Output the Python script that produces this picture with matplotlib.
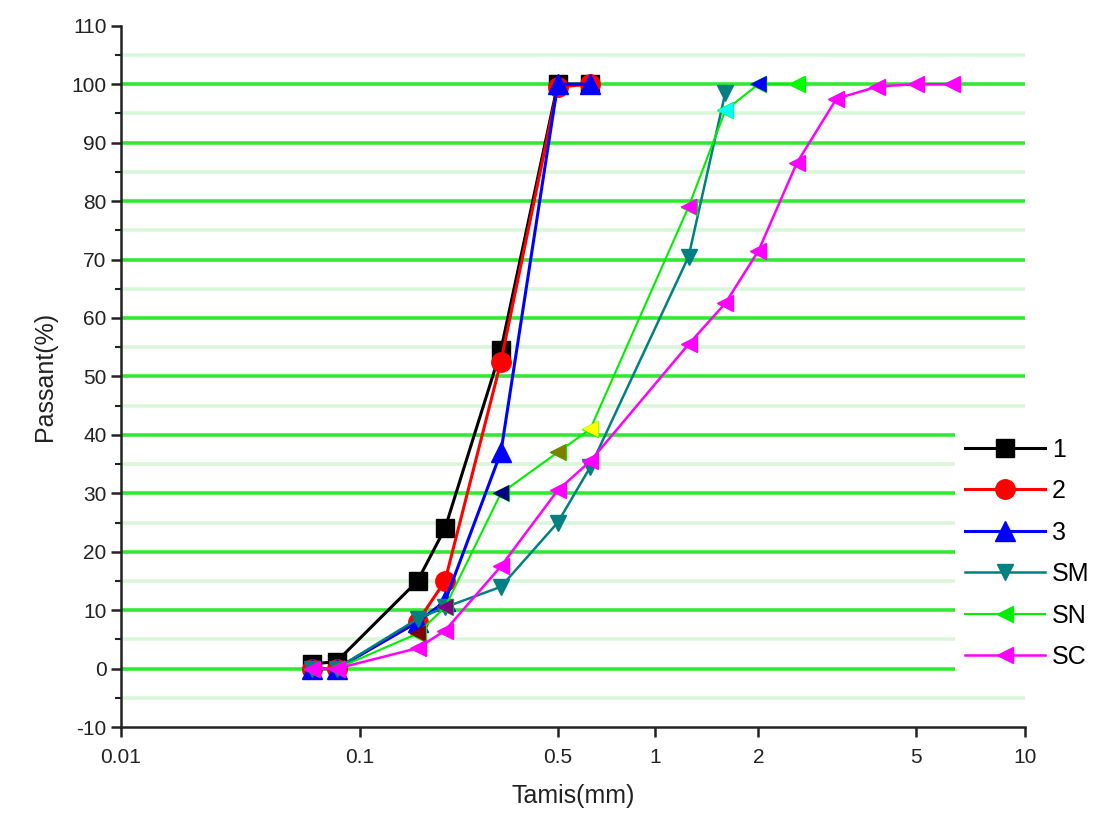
import numpy as np
import matplotlib
matplotlib.use("Agg")
import matplotlib.pyplot as plt
from matplotlib.ticker import MultipleLocator, FixedLocator, FixedFormatter

plt.rcParams['font.family'] = ['Liberation Sans', 'DejaVu Sans']
plt.rcParams['axes.unicode_minus'] = False

# sieve sizes (mm) and passing percentages
sizes_123 = [0.063, 0.08, 0.16, 0.2, 0.315, 0.5, 0.63]
pass_1 = [0.8, 1.2, 15, 24, 54.5, 100, 100]
pass_2 = [0, 0, 8, 15, 52.5, 99.5, 100]
pass_3 = [0, 0, 8, 11.5, 37, 100, 100]

sizes_sm = [0.063, 0.08, 0.16, 0.2, 0.315, 0.5, 0.63, 1.25, 1.6]
pass_sm = [0, 0, 8.5, 10.5, 14, 25, 34.5, 70.5, 98.5]

sizes_sn = [0.063, 0.08, 0.16, 0.2, 0.315, 0.5, 0.63, 1.25, 1.6, 2, 2.5]
pass_sn = [0, 0, 6, 10.5, 30, 37, 41, 79, 95.5, 100, 100]
sn_marker_colors = ['#008080', '#808000', '#800000', '#800080', '#000080',
                    '#808000', '#ffff00', '#ff00ff', '#00ffff', '#0000ff', '#00ff00']

sizes_sc = [0.063, 0.08, 0.16, 0.2, 0.315, 0.5, 0.63, 1.25, 1.6, 2, 2.5, 3.15, 4, 5, 6.3]
pass_sc = [0, 0, 3.5, 6.5, 17.5, 30.5, 35.5, 55.5, 62.5, 71.5, 86.5, 97.5, 99.6, 100, 100]

x_ticks = [0.01, 0.1, 0.5, 1, 2, 5, 10]
x_ticklabels = ['0.01', '0.1', '0.5', '1', '2', '5', '10']

# the original x axis is log-like but its decades are not evenly spaced;
# spacing (fraction of axis width at each tick)
scale_log = np.log10(x_ticks)
scale_frac = np.array([0, 0.264, 0.483, 0.591, 0.705, 0.879, 1.0])


def fwd(x):
    x = np.clip(np.asarray(x, dtype=float), 1e-6, None)
    return np.interp(np.log10(x), scale_log, scale_frac)


def inv(y):
    return 10 ** np.interp(y, scale_frac, scale_log)


fig = plt.figure(figsize=(11, 8.3), dpi=100)
ax = fig.add_axes([0.110, 0.124, 0.822, 0.845])
ax.set_xscale('function', functions=(fwd, inv))

lw_main = 2.2
ax.plot(sizes_123, pass_1, color='black', marker='s', ms=13, lw=lw_main, label='1')
ax.plot(sizes_123, pass_2, color='red', marker='o', ms=14, lw=lw_main, label='2')
ax.plot(sizes_123, pass_3, color='blue', marker='^', ms=14, lw=lw_main, label='3')
ax.plot(sizes_sm, pass_sm, color='#008080', marker='v', ms=12, lw=1.8, label='SM')
ax.plot(sizes_sn, pass_sn, color='#00ee00', marker='<', ms=12, lw=1.5, label='SN')
ax.scatter(sizes_sn, pass_sn, c=sn_marker_colors, marker='<', s=144, zorder=2.05,
           linewidths=0)
ax.plot(sizes_sc, pass_sc, color='#ff00ff', marker='<', ms=12, lw=1.8, label='SC',
        zorder=2.1)

ax.set_xlim(0.01, 10)
ax.set_ylim(-10, 110)

ax.xaxis.set_major_locator(FixedLocator(x_ticks))
ax.xaxis.set_major_formatter(FixedFormatter(x_ticklabels))
ax.xaxis.set_minor_locator(FixedLocator([]))
ax.yaxis.set_major_locator(MultipleLocator(10))
ax.yaxis.set_minor_locator(MultipleLocator(5))

# horizontal grid: strong green every 10 (0..100), pale green at the 5s
for g in range(-5, 110, 5):
    if g % 10 == 0:
        ax.axhline(g, color='#33e833', lw=2.6, zorder=0.5)
    else:
        ax.axhline(g, color='#d9f6d9', lw=2.6, zorder=0.4)

for s in ['top', 'right']:
    ax.spines[s].set_visible(False)
for s in ['left', 'bottom']:
    ax.spines[s].set_linewidth(1.8)
    ax.spines[s].set_color('#222222')

ax.tick_params(axis='both', which='major', direction='out', length=7, width=1.8,
               labelsize=15, colors='#222222')
ax.tick_params(axis='y', which='minor', direction='out', length=4, width=1.5,
               colors='#222222')
ax.tick_params(axis='x', pad=8)

ax.set_xlabel('Tamis(mm)', fontsize=18, color='#222222', labelpad=12)
ax.set_ylabel('Passant(%)', fontsize=18, color='#222222', labelpad=10)

leg = ax.legend(loc='upper left', bbox_to_anchor=(0.922, 0.427), fontsize=18,
                frameon=True, facecolor='white', edgecolor='none', framealpha=1,
                handlelength=3.2, handletextpad=0.3, labelspacing=0.7,
                borderpad=0.4, borderaxespad=0)
leg.set_zorder(5)

fig.savefig('out.png', dpi=100)
